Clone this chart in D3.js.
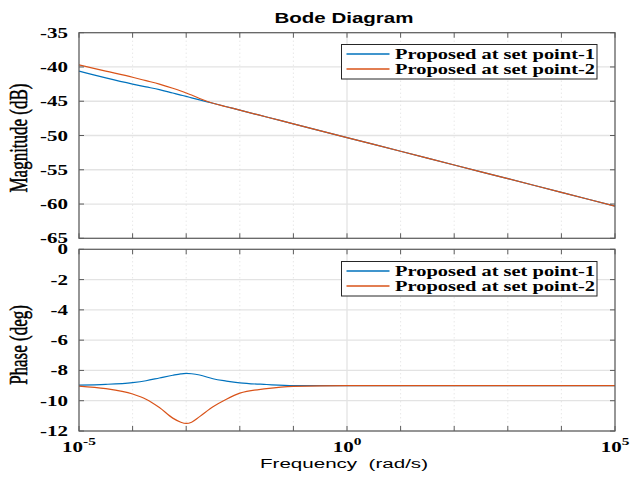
<!DOCTYPE html>
<html>
<head>
<meta charset="utf-8">
<script src="https://cdn.jsdelivr.net/npm/d3@7"></script>
<style>
  html, body { margin: 0; padding: 0; background: #fff; }
  svg { display: block; }
</style>
</head>
<body>
<svg id="chart" width="631" height="478"></svg>
<script>
// Frequency samples (rad/s), shared by both series
const freq = [1e-5, 3.16e-5, 1e-4, 1.78e-4, 3.16e-4, 5.62e-4, 7.94e-4, 1e-3, 1.26e-3,
              1.78e-3, 3.16e-3, 5.62e-3, 1e-2, 3.16e-2, 1e-1, 1, 10, 100, 1e3, 1e4, 1e5];

// Magnitude (dB)
const magSP1 = [-40.6, -41.6, -42.5, -42.9, -43.3, -43.8, -44.1, -44.3, -44.5,
                -44.8, -45.3, -45.8, -46.3, -47.3, -48.3, -50.3, -52.3, -54.3, -56.3, -58.3, -60.3];
const magSP2 = [-39.7, -40.6, -41.5, -42.0, -42.5, -43.1, -43.5, -43.8, -44.1,
                -44.6, -45.3, -45.8, -46.3, -47.3, -48.3, -50.3, -52.3, -54.3, -56.3, -58.3, -60.3];

// Phase (deg)
const phSP1 = [-8.97, -8.92, -8.80, -8.68, -8.50, -8.32, -8.23, -8.20, -8.22,
               -8.30, -8.55, -8.70, -8.82, -8.93, -9.0, -9.0, -9.0, -9.0, -9.0, -9.0, -9.0];
const phSP2 = [-9.03, -9.20, -9.56, -9.90, -10.45, -11.15, -11.42, -11.50, -11.42,
               -11.05, -10.40, -9.90, -9.50, -9.20, -9.05, -9.0, -9.0, -9.0, -9.0, -9.0, -9.0];

const seriesNames = ["Proposed at set point-1", "Proposed at set point-2"];
const seriesColors = ["#0072BD", "#D95319"];

const magTicks = [-65, -60, -55, -50, -45, -40, -35];
const phTicks = [-12, -10, -8, -6, -4, -2, 0];
const freqMajor = [1e-5, 1, 1e5];
const freqMajorLabels = ["-5", "0", "5"];
const freqDecades = d3.range(-5, 6).map(e => Math.pow(10, e));

const svg = d3.select("#chart");
const SX = 1.4; // horizontal text stretch

const x = d3.scaleLog().domain([1e-5, 1e5]).range([79, 615]);
const yMag = d3.scaleLinear().domain([-65, -35]).range([238.3, 32.7]);
const yPh = d3.scaleLinear().domain([-12, 0]).range([431, 249.3]);

const axisCol = "#5c5c5c";
const gridCol = "#e3e3e3";

function stretchedText(g, px, py, str, opts) {
  return g.append("text")
    .attr("transform", `translate(${px},${py}) scale(${SX},1)`)
    .attr("text-anchor", opts.anchor || "start")
    .attr("font-family", opts.family)
    .attr("font-size", opts.size)
    .attr("font-weight", opts.weight || "normal")
    .attr("fill", opts.fill || "#000")
    .text(str);
}

function drawPanel(y, ticks, ySeries, legendY) {
  const g = svg.append("g");
  const [x0, x1] = x.range();
  const [yb, yt] = y.range();

  // horizontal grid
  g.selectAll(null).data(ticks).enter().append("line")
    .attr("x1", x0).attr("x2", x1)
    .attr("y1", d => y(d)).attr("y2", d => y(d))
    .attr("stroke", gridCol).attr("stroke-width", 1.3);

  // decade minor grid (dotted)
  g.selectAll(null).data(freqDecades.filter(f => !freqMajor.includes(f))).enter().append("line")
    .attr("x1", d => x(d)).attr("x2", d => x(d))
    .attr("y1", yt).attr("y2", yb)
    .attr("stroke", "#d6d6d6").attr("stroke-width", 0.8).attr("stroke-dasharray", "1,3");

  // major vertical grid
  g.selectAll(null).data(freqMajor).enter().append("line")
    .attr("x1", d => x(d)).attr("x2", d => x(d))
    .attr("y1", yt).attr("y2", yb)
    .attr("stroke", gridCol).attr("stroke-width", 1.3);

  // curves
  const line = d3.line()
    .x((d, i) => x(freq[i]))
    .y(d => y(d))
    .curve(d3.curveMonotoneX);
  ySeries.forEach((s, k) => {
    g.append("path").datum(s)
      .attr("d", line)
      .attr("fill", "none")
      .attr("stroke", seriesColors[k])
      .attr("stroke-width", 1.2);
  });

  // frame
  g.append("rect").attr("x", x0).attr("y", yt).attr("width", x1 - x0).attr("height", yb - yt)
    .attr("fill", "none").attr("stroke", axisCol).attr("stroke-width", 1.2);

  // inward ticks on all sides
  const tl = 5;
  freqDecades.forEach(f => {
    g.append("line").attr("x1", x(f)).attr("x2", x(f)).attr("y1", yb).attr("y2", yb - tl)
      .attr("stroke", axisCol);
    g.append("line").attr("x1", x(f)).attr("x2", x(f)).attr("y1", yt).attr("y2", yt + tl)
      .attr("stroke", axisCol);
  });
  ticks.forEach(v => {
    g.append("line").attr("x1", x0).attr("x2", x0 + tl).attr("y1", y(v)).attr("y2", y(v))
      .attr("stroke", axisCol);
    g.append("line").attr("x1", x1).attr("x2", x1 - tl).attr("y1", y(v)).attr("y2", y(v))
      .attr("stroke", axisCol);
  });

  // y tick labels
  ticks.forEach(v => {
    stretchedText(g, 68, y(v) + 5, String(v), {
      anchor: "end", family: "'Liberation Serif', 'Times New Roman', serif",
      size: 15, weight: "bold"
    });
  });

  // legend
  const lx0 = 341.5, lx1 = 597, ly0 = legendY, lh = 34.5;
  g.append("rect").attr("x", lx0).attr("y", ly0).attr("width", lx1 - lx0).attr("height", lh)
    .attr("fill", "#fff").attr("stroke", "#262626").attr("stroke-width", 1);
  seriesNames.forEach((name, k) => {
    const ry = ly0 + 9.5 + k * 15;
    g.append("line").attr("x1", 346.5).attr("x2", 389.5).attr("y1", ry).attr("y2", ry)
      .attr("stroke", seriesColors[k]).attr("stroke-width", 1.4);
    g.append("text")
      .attr("x", 395).attr("y", ry + 5)
      .attr("font-family", "'Liberation Serif', 'Times New Roman', serif")
      .attr("font-size", 14).attr("font-weight", "bold")
      .attr("textLength", 200).attr("lengthAdjust", "spacingAndGlyphs")
      .text(name);
  });
  return g;
}

drawPanel(yMag, magTicks, [magSP1, magSP2], 44.5);
drawPanel(yPh, phTicks, [phSP1, phSP2], 261.5);

// x tick labels 10^n
freqMajor.forEach((f, i) => {
  const t = svg.append("text")
    .attr("transform", `translate(${x(f)},452) scale(${SX},1)`)
    .attr("text-anchor", "middle")
    .attr("font-family", "'Liberation Serif', 'Times New Roman', serif")
    .attr("font-size", 15).attr("font-weight", "bold");
  t.append("tspan").text("10");
  t.append("tspan").attr("dy", -7).attr("font-size", 11).text(freqMajorLabels[i]);
});

// title
svg.append("text")
  .attr("x", 344).attr("y", 23)
  .attr("text-anchor", "middle")
  .attr("font-family", "'Liberation Sans', Arial, sans-serif")
  .attr("font-size", 14).attr("font-weight", "bold")
  .attr("textLength", 139).attr("lengthAdjust", "spacingAndGlyphs")
  .text("Bode Diagram");

// x axis label
svg.append("text")
  .attr("x", 344).attr("y", 468)
  .attr("text-anchor", "middle")
  .attr("font-family", "'Liberation Sans', Arial, sans-serif")
  .attr("font-size", 12)
  .attr("textLength", 168).attr("lengthAdjust", "spacingAndGlyphs")
  .attr("xml:space", "preserve")
  .text("Frequency  (rad/s)");

// y axis labels (rotated, glyphs stretched horizontally)
function yLabel(cx, cy, str) {
  svg.append("text")
    .attr("transform", `translate(${cx},${cy}) scale(1.5,1) rotate(-90)`)
    .attr("text-anchor", "middle")
    .attr("font-family", "'Liberation Serif', 'Times New Roman', serif")
    .attr("font-size", 17)
    .attr("stroke", "#000").attr("stroke-width", 0.35)
    .text(str);
}
yLabel(27, 138, "Magnitude (dB)");
yLabel(27, 345, "Phase (deg)");
</script>
</body>
</html>
